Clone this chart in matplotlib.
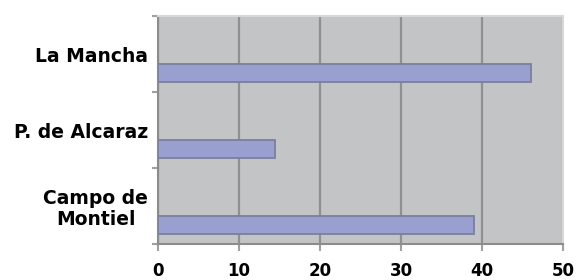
import matplotlib
matplotlib.use("Agg")
import matplotlib.pyplot as plt
import numpy as np

categories = ["Campo de\nMontiel", "P. de Alcaraz", "La Mancha"]
values = [39.0, 14.4, 46.0]
xticks = [0, 10, 20, 30, 40, 50]

fig = plt.figure(figsize=(5.76, 2.8), dpi=100)
ax = fig.add_axes([158/576, 1-244/280, (563-158)/576, (244-16)/280])
ax.set_facecolor("#c3c4c6")

pos = np.arange(len(categories))
ax.barh(pos - 0.25, values, height=0.23, color="#99a0d0",
        edgecolor="#7b7f9e", linewidth=1.3, zorder=3)

ax.set_xlim(0, 50)
ax.set_ylim(-0.5, len(categories) - 0.5)
ax.set_xticks(xticks)
ax.set_xticklabels([str(t) for t in xticks], fontsize=12, fontweight="bold",
                   family="DejaVu Sans")
ax.set_yticks(np.arange(len(categories) + 1) - 0.5)
ax.set_yticklabels([])
ax.set_yticks(pos, minor=True)
ax.set_yticklabels(categories, minor=True, fontsize=13.5, fontweight="bold",
                   family="DejaVu Sans", linespacing=1.15)
for lab in ax.get_yticklabels(minor=True):
    lab.set_multialignment("center")
ax.tick_params(axis="y", which="minor", length=0, pad=7)
ax.tick_params(axis="y", which="major", length=4, color="#a0a0a0", width=1.5)
ax.tick_params(axis="x", which="major", length=5, color="#a0a0a0", width=1.5, pad=8)

ax.grid(axis="x", color="#909090", linewidth=1.6, zorder=1)
ax.set_axisbelow(True)
for s in ["top", "right"]:
    ax.spines[s].set_color("#d8d8d8")
    ax.spines[s].set_linewidth(1.5)
for s in ["left", "bottom"]:
    ax.spines[s].set_color("#8c8c8c")
    ax.spines[s].set_linewidth(1.5)

fig.savefig("out.png", dpi=100)
